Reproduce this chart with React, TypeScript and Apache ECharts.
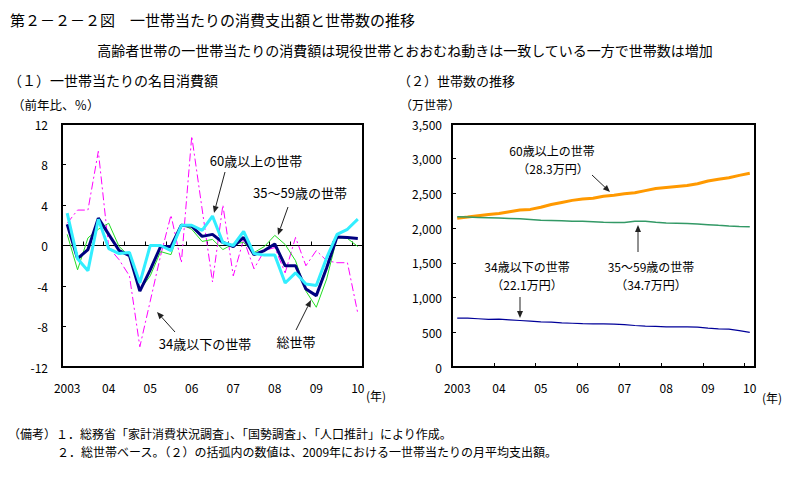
import React, { useEffect, useRef } from 'react';
import * as echarts from 'echarts';

// Quarterly categories 2003Q1 .. 2010Q1
const categories = [
  '2003Q1', '2003Q2', '2003Q3', '2003Q4',
  '2004Q1', '2004Q2', '2004Q3', '2004Q4',
  '2005Q1', '2005Q2', '2005Q3', '2005Q4',
  '2006Q1', '2006Q2', '2006Q3', '2006Q4',
  '2007Q1', '2007Q2', '2007Q3', '2007Q4',
  '2008Q1', '2008Q2', '2008Q3', '2008Q4',
  '2009Q1', '2009Q2', '2009Q3', '2009Q4',
  '2010Q1',
];
const yearLabels = ['2003', '04', '05', '06', '07', '08', '09', '10'];

// (1) nominal consumption per household, YoY %
const allHouseholds = [2.1, -1.3, -0.4, 2.7, 1.1, -0.5, -1.0, -4.5, -2.4, -0.1, -0.1, 2.0, 1.9, 0.9, 1.1, 0.3, -0.1, 0.8, -0.9, -0.5, 0.15, -2.0, -2.0, -4.3, -4.95, -2.2, 0.85, 0.8, 0.7];
const over60 = [3.2, -1.3, -2.5, 2.6, -0.3, -0.8, -0.7, -3.7, 0.0, 0.0, -0.5, 2.0, 2.0, 1.5, 2.9, 0.3, 0.0, 1.4, -0.8, -0.95, -0.95, -3.7, -2.7, -3.8, -3.95, -1.2, 1.1, 1.6, 2.6];
const age35to59 = [1.1, -2.4, 0.75, 1.6, 2.2, -0.1, -1.05, -4.4, -3.0, -0.6, -0.9, 2.1, 1.6, 0.4, 0.6, -0.4, 0.15, 0.3, -0.7, -0.1, 1.0, 0.1, -1.5, -4.5, -6.1, -3.3, 0.8, 0.7, -0.1];
const under34 = [2.2, 3.5, 3.5, 9.3, -0.2, -1.4, -3.0, -10.0, -5.5, -1.0, 3.0, -1.7, 10.8, 3.6, -3.6, 4.0, -3.0, 0.6, -2.3, -0.5, -0.2, -2.7, 0.8, -2.0, -0.5, -1.5, -1.7, -1.7, -6.7];

// (2) number of households, 10k households
const over60HH = [2143, 2160, 2180, 2195, 2210, 2235, 2260, 2270, 2300, 2340, 2370, 2400, 2420, 2430, 2460, 2475, 2495, 2510, 2540, 2570, 2585, 2600, 2615, 2640, 2680, 2705, 2725, 2760, 2790];
const age35to59HH = [2165, 2160, 2155, 2150, 2145, 2140, 2135, 2125, 2115, 2110, 2105, 2100, 2098, 2092, 2085, 2083, 2083, 2100, 2098, 2085, 2075, 2072, 2068, 2060, 2050, 2040, 2032, 2025, 2020];
const under34HH = [705, 703, 695, 685, 690, 680, 670, 660, 650, 645, 635, 630, 625, 622, 620, 618, 610, 598, 590, 585, 578, 578, 578, 575, 560, 550, 545, 525, 500];

const FONT = '"Noto Sans CJK JP", "Noto Sans", sans-serif';

function arrow(x1: number, y1: number, x2: number, y2: number, color = '#222') {
  const dx = x2 - x1, dy = y2 - y1;
  const len = Math.hypot(dx, dy);
  const ux = dx / len, uy = dy / len;
  const hl = 7, hw = 3;
  const bx = x2 - ux * hl, by = y2 - uy * hl;
  return [
    { type: 'line', shape: { x1, y1, x2: bx, y2: by }, style: { stroke: color, lineWidth: 1 } },
    {
      type: 'polygon',
      shape: { points: [[x2, y2], [bx - uy * hw, by + ux * hw], [bx + uy * hw, by - ux * hw]] },
      style: { fill: color },
    },
  ];
}

function txt(text: string, x: number, y: number, fontSize = 12, align = 'left') {
  return {
    type: 'text',
    x,
    y,
    style: { text, fontSize, fontFamily: FONT, fill: '#000', align, verticalAlign: 'middle' },
  };
}

const yearFmt = (_v: string, i: number) => yearLabels[i / 4] ?? '';
const commaFmt = (v: number) => String(v).replace(/\B(?=(\d{3})+(?!\d))/g, ',');

export default function App() {
  const ref = useRef<HTMLDivElement>(null);
  useEffect(() => {
    document.body.style.margin = '0';
    if (!ref.current) return;
    const chart = echarts.init(ref.current, null, { renderer: 'svg' });
    const option: any = {
      animation: false,
      backgroundColor: '#fff',
      textStyle: { fontFamily: FONT },
      grid: [
        { left: 62, top: 124, width: 301, height: 243, show: true, borderColor: '#000', borderWidth: 2, backgroundColor: '#fff' },
        { left: 452, top: 124, width: 303, height: 243, show: true, borderColor: '#000', borderWidth: 2, backgroundColor: '#fff' },
      ],
      xAxis: [
        {
          gridIndex: 0, type: 'category', data: categories, boundaryGap: true, position: 'top',
          axisLine: { onZero: true, lineStyle: { color: '#000', width: 1 } },
          axisTick: { show: true, inside: false, interval: 1, length: 4, lineStyle: { color: '#000' } },
          axisLabel: { show: false }, splitLine: { show: false },
        },
        {
          gridIndex: 0, type: 'category', data: categories, boundaryGap: true, position: 'bottom',
          axisLine: { show: false, onZero: false }, axisTick: { show: false },
          axisLabel: { interval: 3, formatter: yearFmt, color: '#000', fontSize: 12, margin: 14, fontFamily: FONT },
          splitLine: { show: false },
        },
        {
          gridIndex: 1, type: 'category', data: categories, boundaryGap: true, position: 'bottom',
          axisLine: { onZero: false, lineStyle: { color: '#000', width: 2 } },
          axisTick: { show: true, inside: true, interval: 3, length: 4, lineStyle: { color: '#000' } },
          axisLabel: { interval: 3, formatter: yearFmt, color: '#000', fontSize: 12, margin: 14, fontFamily: FONT },
          splitLine: { show: false },
        },
      ],
      yAxis: [
        {
          gridIndex: 0, type: 'value', min: -12, max: 12, interval: 4,
          axisLine: { show: true, lineStyle: { color: '#000', width: 2 } },
          axisTick: { show: true, inside: true, length: 4, lineStyle: { color: '#000' } },
          axisLabel: { color: '#000', fontSize: 12, margin: 14, fontFamily: FONT },
          splitLine: { show: false },
        },
        {
          gridIndex: 1, type: 'value', min: 0, max: 3500, interval: 500,
          axisLine: { show: true, lineStyle: { color: '#000', width: 2 } },
          axisTick: { show: true, inside: true, length: 4, lineStyle: { color: '#000' } },
          axisLabel: { color: '#000', fontSize: 12, margin: 10, formatter: commaFmt, fontFamily: FONT },
          splitLine: { show: false },
        },
      ],
      series: [
        { name: '34歳以下の世帯', type: 'line', xAxisIndex: 0, yAxisIndex: 0, data: under34, symbol: 'none', lineStyle: { color: '#FF00FF', width: 1, type: [8, 3, 2, 3] }, z: 2 },
        { name: '35～59歳の世帯', type: 'line', xAxisIndex: 0, yAxisIndex: 0, data: age35to59, symbol: 'none', lineStyle: { color: '#22DD22', width: 1 }, z: 3 },
        { name: '総世帯', type: 'line', xAxisIndex: 0, yAxisIndex: 0, data: allHouseholds, symbol: 'none', lineStyle: { color: '#000080', width: 3 }, z: 4 },
        { name: '60歳以上の世帯', type: 'line', xAxisIndex: 0, yAxisIndex: 0, data: over60, symbol: 'none', lineStyle: { color: '#33EEFF', width: 3 }, z: 5 },
        { name: '60歳以上の世帯(2)', type: 'line', xAxisIndex: 2, yAxisIndex: 1, data: over60HH, symbol: 'none', lineStyle: { color: '#FF9900', width: 3 } },
        { name: '35～59歳の世帯(2)', type: 'line', xAxisIndex: 2, yAxisIndex: 1, data: age35to59HH, symbol: 'none', lineStyle: { color: '#339966', width: 1.5 } },
        { name: '34歳以下の世帯(2)', type: 'line', xAxisIndex: 2, yAxisIndex: 1, data: under34HH, symbol: 'none', lineStyle: { color: '#000099', width: 1.2 } },
      ],
      graphic: [
        txt('第２－２－２図　一世帯当たりの消費支出額と世帯数の推移', 10, 19, 15),
        txt('高齢者世帯の一世帯当たりの消費額は現役世帯とおおむね動きは一致している一方で世帯数は増加', 405, 50, 14, 'center'),
        txt('（１）一世帯当たりの名目消費額', 8, 80, 14),
        txt('（２）世帯数の推移', 398, 80, 13),
        txt('（前年比、％）', 12, 104, 12.5),
        txt('（万世帯）', 400, 104, 12),
        txt('(年)', 366, 395, 12),
        txt('(年)', 762, 397, 12),
        // left annotations
        txt('60歳以上の世帯', 256, 160, 13, 'center'),
        ...arrow(225, 172, 214, 213),
        txt('35～59歳の世帯', 300, 192, 13, 'center'),
        ...arrow(288, 207, 278, 235),
        txt('34歳以下の世帯', 205, 343, 13, 'center'),
        ...arrow(175, 332, 157, 312),
        txt('総世帯', 296, 341, 13, 'center'),
        ...arrow(296, 330, 311, 300),
        // right annotations
        txt('60歳以上の世帯', 552, 150, 12, 'center'),
        txt('（28.3万円）', 553, 168.5, 12, 'center'),
        ...arrow(592, 175, 610, 192),
        txt('35～59歳の世帯', 651, 266, 12, 'center'),
        txt('（34.7万円）', 651, 284.5, 12, 'center'),
        ...arrow(638, 252, 638, 225),
        txt('34歳以下の世帯', 527, 266, 12, 'center'),
        txt('（22.1万円）', 527, 284.5, 12, 'center'),
        ...arrow(520, 297, 520, 318),
        // notes
        txt('（備考）１．総務省「家計消費状況調査」、「国勢調査」、「人口推計」により作成。', 8, 433, 12),
        txt('２．総世帯ベース。（２）の括弧内の数値は、2009年における一世帯当たりの月平均支出額。', 57, 451.5, 12),
      ],
    };
    chart.setOption(option);
    return () => chart.dispose();
  }, []);
  return <div ref={ref} style={{ width: 803, height: 479 }} />;
}
